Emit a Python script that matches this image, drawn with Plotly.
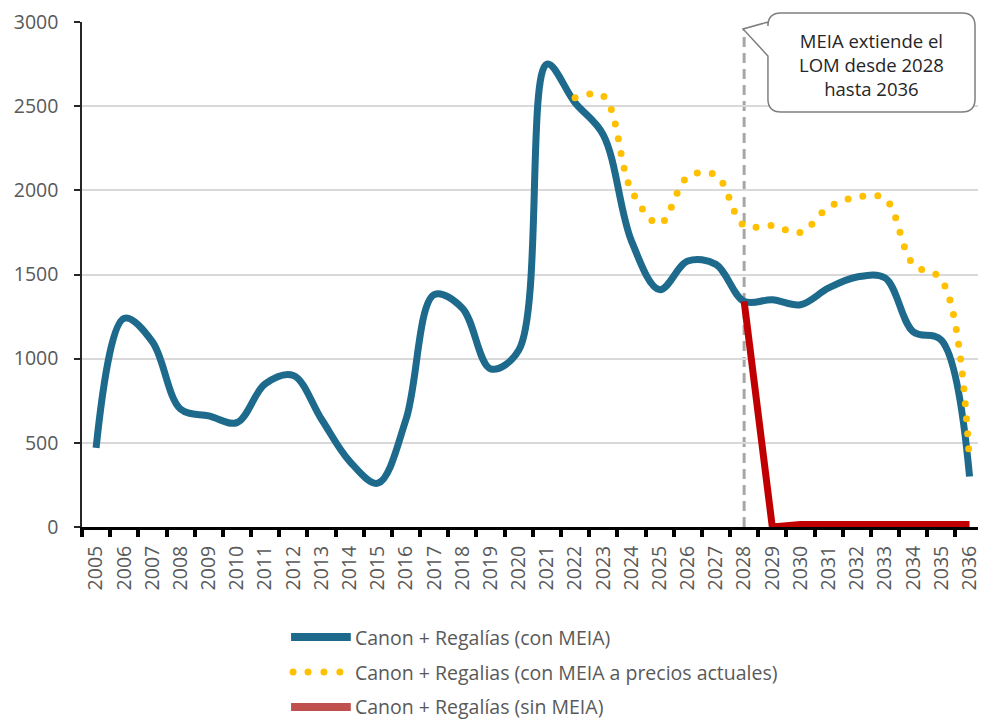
import plotly.graph_objects as go

# ---- data -------------------------------------------------------------
years = [str(y) for y in range(2005, 2037)]

con_meia = [470, 1240, 1100, 700, 660, 620, 850, 900, 640, 390, 260, 640,
            1380, 1300, 940, 1050, 2750, 2520, 2330, 1700, 1410, 1580, 1560,
            1340, 1350, 1320, 1420, 1485, 1480, 1160, 1110, 300]

years_actuales = years[17:]          # 2022 - 2036
con_meia_actuales = [2550, 2560, 2000, 1800, 2080, 2090, 1790, 1790, 1750,
                     1900, 1960, 1950, 1560, 1470, 380]

years_sin = years[23:]               # 2028 - 2036
sin_meia = [1340, 0, 15, 15, 15, 15, 15, 15, 15]

y_ticks = [0, 500, 1000, 1500, 2000, 2500, 3000]

legend_labels = ["Canon + Regalías (con MEIA)",
                 "Canon + Regalias (con MEIA a precios actuales)",
                 "Canon + Regalías (sin MEIA)"]
callout_text = "MEIA extiende el<br>LOM desde 2028<br>hasta 2036"

# ---- styling ----------------------------------------------------------
BLUE = "#1D6A8C"
GOLD = "#FFC000"
RED = "#C00000"
RED_LEGEND = "#C0504D"
GREY_TXT = "#595959"
FONT = "Open Sans"

W, H = 982, 720
ML, MR, MT, MB = 82, 0, 22, 193
PW, PH = W - ML - MR, H - MT - MB


def px(x, y):
    """Pixel position -> paper coordinates."""
    return (x - ML) / PW, (H - MB - y) / PH


def P(x, y):
    a, b = px(x, y)
    return f"{a:.5f},{b:.5f}"


fig = go.Figure()

fig.add_trace(go.Scatter(
    x=years, y=con_meia, mode="lines", name=legend_labels[0],
    line=dict(color=BLUE, width=7, shape="spline", smoothing=1),
    showlegend=False))

fig.add_trace(go.Scatter(
    x=years_actuales, y=con_meia_actuales, mode="lines", name=legend_labels[1],
    line=dict(color=GOLD, width=7, shape="spline", smoothing=1, dash="0px,15px"),
    showlegend=False))

fig.add_trace(go.Scatter(
    x=years_sin, y=sin_meia, mode="lines", name=legend_labels[2],
    line=dict(color=RED, width=7, shape="linear"),
    showlegend=False))

shapes = []

# dashed marker at 2028
shapes.append(dict(type="line", xref="x", yref="y",
                   x0=years.index("2028"), x1=years.index("2028"),
                   y0=0, y1=2960,
                   line=dict(color="#A6A6A6", width=3, dash="10px,6px"),
                   layer="below"))

# speech-bubble callout
L, R, T, B, r = 771, 979, 13, 112, 13
tip = (746, 29)
path = (f"M {P(L, 22)} L {P(L, T + r)} Q {P(L, T)} {P(L + r, T)} "
        f"L {P(R - r, T)} Q {P(R, T)} {P(R, T + r)} "
        f"L {P(R, B - r)} Q {P(R, B)} {P(R - r, B)} "
        f"L {P(L + r, B)} Q {P(L, B)} {P(L, B - r)} "
        f"L {P(L, 56)} L {P(*tip)} Z")
shapes.append(dict(type="path", xref="paper", yref="paper", path=path,
                   fillcolor="white", line=dict(color="#7F7F7F", width=1.5),
                   layer="above"))

# legend samples
lx0, lx1 = 292, 352
ly = [637, 672, 707]
a0, b0 = px(lx0, ly[0]); a1, _ = px(lx1, ly[0])
shapes.append(dict(type="line", xref="paper", yref="paper", x0=a0, x1=a1,
                   y0=b0, y1=b0, line=dict(color=BLUE, width=8)))
for cx in [294, 309, 325, 341]:
    c0x, c0y = px(cx - 3.5, ly[1] - 3.5)
    c1x, c1y = px(cx + 3.5, ly[1] + 3.5)
    shapes.append(dict(type="circle", xref="paper", yref="paper",
                       x0=c0x, x1=c1x, y0=c1y, y1=c0y,
                       fillcolor=GOLD, line=dict(width=0)))
a0, b2 = px(lx0, ly[2]); a1, _ = px(lx1, ly[2])
shapes.append(dict(type="line", xref="paper", yref="paper", x0=a0, x1=a1,
                   y0=b2, y1=b2, line=dict(color=RED_LEGEND, width=8)))

annotations = []
for lbl, yy in zip(legend_labels, ly):
    ax, ay = px(354, yy)
    annotations.append(dict(xref="paper", yref="paper", x=ax, y=ay,
                            xanchor="left", yanchor="middle", text=lbl,
                            showarrow=False,
                            font=dict(family=FONT, size=19.5, color=GREY_TXT)))

cx, cy = px((L + R) / 2, 65)
annotations.append(dict(xref="paper", yref="paper", x=cx, y=cy,
                        xanchor="center", yanchor="middle", text=callout_text,
                        showarrow=False, align="center",
                        font=dict(family=FONT, size=18.5, color="#262626")))

fig.update_layout(
    width=W, height=H, autosize=False,
    margin=dict(l=ML, r=MR, t=MT, b=MB, pad=0),
    paper_bgcolor="white", plot_bgcolor="white",
    shapes=shapes, annotations=annotations,
    font=dict(family=FONT, color=GREY_TXT),
    xaxis=dict(type="category", range=[-0.5, 31.3], tickson="boundaries",
               ticks="outside", ticklen=7, tickwidth=4, tickcolor="black",
               showline=True, linecolor="black", linewidth=3,
               showgrid=False, tickangle=-90,
               tickfont=dict(family=FONT, size=19.5, color=GREY_TXT),
               ticklabelstandoff=8),
    yaxis=dict(range=[0, 3000], tickvals=y_ticks, ticks="outside",
               ticklen=6, tickwidth=1.5, tickcolor="#262626",
               showline=True, linecolor="#262626", linewidth=1.5,
               showgrid=True, gridcolor="#D9D9D9", gridwidth=1.5,
               zeroline=False,
               tickfont=dict(family=FONT, size=19.5, color=GREY_TXT),
               ticklabelstandoff=12),
)

round_dots = """
var s = document.createElement('style');
s.textContent = '.scatterlayer .trace:nth-of-type(2) .js-line{stroke-linecap:round}';
document.head.appendChild(s);
"""

fig.write_html("out.html", config={"displayModeBar": False},
               post_script=round_dots)
